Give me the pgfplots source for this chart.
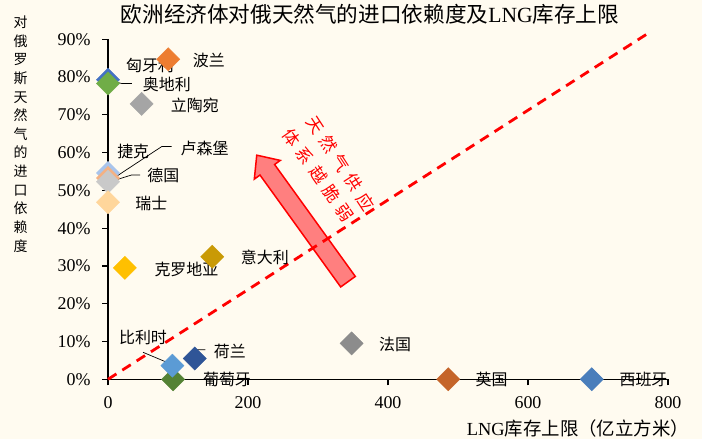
\documentclass[border=0pt]{standalone}
\usepackage{pgfplots}
\pgfplotsset{compat=1.18}
\usepackage{fontspec}
\setmainfont{Liberation Serif}
\newfontfamily\cjk{Noto Sans CJK SC}
\definecolor{bg}{HTML}{FFFBF0}
\definecolor{arrowfill}{HTML}{FF7F7F}
\definecolor{cPL}{HTML}{ED7D31}
\definecolor{cHU}{HTML}{4472C4}
\definecolor{cAT}{HTML}{70AD47}
\definecolor{cLT}{HTML}{A5A5A5}
\definecolor{cCZ}{HTML}{A9C4EB}
\definecolor{cLU}{HTML}{F4B183}
\definecolor{cDE}{HTML}{C9C9C9}
\definecolor{cCH}{HTML}{FFD69B}
\definecolor{cHR}{HTML}{FFC000}
\definecolor{cIT}{HTML}{C99A06}
\definecolor{cBE}{HTML}{5B9BD5}
\definecolor{cNL}{HTML}{2F5597}
\definecolor{cPT}{HTML}{548235}
\definecolor{cFR}{HTML}{8C8C8C}
\definecolor{cUK}{HTML}{C5652A}
\definecolor{cES}{HTML}{4A7EBB}
\newcommand\lab{\cjk\fontsize{16}{16}\selectfont}
\newcommand\rs{\hspace{6bp}}
\pgfplotsset{dia/.style={mark options={rotate=45, fill=#1, draw=#1}, color=#1}}
\begin{document}
\begin{tikzpicture}
\begin{scope}[x=1bp,y=1bp]
\fill[bg] (0,0) rectangle (702,439);
% arrow
\begin{scope}[shift={(348,157.3)},rotate=125.8]
\filldraw[draw=red, fill=arrowfill, line width=1.5bp] (0,-9) -- (138,-9) -- (138,-16) -- (156,0) -- (138,16) -- (138,9) -- (0,9) -- cycle;
\end{scope}
\node[rotate=-57, text=red, font=\cjk\fontsize{17}{17}\selectfont, inner sep=0] at (340.8,275.7) {天\rs 然\rs 气\rs 供\rs 应};
\node[rotate=-55, text=red, font=\cjk\fontsize{17}{17}\selectfont, inner sep=0] at (318.3,264) {体\rs 系\rs 越\rs 脆\rs 弱};
% title
\node[font=\fontsize{21.7}{21.7}\selectfont, inner sep=0] at (370,425) {{\cjk 欧洲经济体对俄天然气的进口依赖度及}LNG{\cjk 库存上限}};
% y label
\node[font=\cjk\fontsize{14}{18.7}\selectfont, align=center, inner sep=0] at (20.5,305) {对\\俄\\罗\\斯\\天\\然\\气\\的\\进\\口\\依\\赖\\度};
% x label
\node[font=\fontsize{18.5}{18.5}\selectfont, inner sep=0] at (578,11) {LNG{\cjk 库存上限（亿立方米）}};
\end{scope}
\begin{axis}[
  at={(108bp,59.7bp)}, anchor=south west,
  scale only axis, width=560bp, height=340bp,
  xmin=0, xmax=800, ymin=0, ymax=0.9,
  axis lines*=left,
  axis line style={black, line width=1.2bp},
  tick style={black, line width=1.1bp},
  tick align=outside,
  major tick length=6bp,
  xtick={0,200,400,600,800},
  xticklabels={0,200,400,600,800},
  ytick={0,0.1,0.2,0.3,0.4,0.5,0.6,0.7,0.8,0.9},
  yticklabels={0\%,10\%,20\%,30\%,40\%,50\%,60\%,70\%,80\%,90\%},
  ticklabel style={font=\fontsize{18}{18}\selectfont},
  yticklabel style={xshift=-8bp},
  xticklabel style={yshift=-8bp},
  clip=false,
  every axis plot/.append style={only marks, mark=square*, mark size=8.2bp},
]
\addplot[red, no marks, sharp plot, line width=2.8bp, dash pattern=on 10bp off 7bp] coordinates {(0,0) (775,0.92)};
\addplot[dia=cPL] coordinates {(86,0.847)};
\addplot[dia=cHU] coordinates {(0,0.793)};
\addplot[dia=cAT] coordinates {(0,0.783)};
\addplot[dia=cLT] coordinates {(48,0.729)};
\addplot[dia=cCZ] coordinates {(0,0.546)};
\addplot[dia=cLU] coordinates {(0,0.533)};
\addplot[dia=cDE] coordinates {(0,0.523)};
\addplot[dia=cCH] coordinates {(0,0.4685)};
\addplot[dia=cHR] coordinates {(24,0.295)};
\addplot[dia=cIT] coordinates {(149,0.3245)};
\addplot[dia=cPT] coordinates {(93,0)};
\addplot[dia=cBE] coordinates {(92,0.036)};
\addplot[dia=cNL] coordinates {(124,0.055)};
\addplot[dia=cFR] coordinates {(348,0.095)};
\addplot[dia=cUK] coordinates {(486,0)};
\addplot[dia=cES] coordinates {(691,0)};
% leader lines
\draw[black, line width=0.7bp] (axis cs:0,0.792) -- (axis cs:19.6,0.783) -- (axis cs:34,0.783);
\draw[black, line width=0.7bp] (axis cs:0.4,0.523) -- (axis cs:76.7,0.616) -- (axis cs:91,0.616);
\draw[black, line width=0.7bp] (axis cs:3,0.523) -- (axis cs:34,0.541) -- (axis cs:46,0.541);
\draw[black, line width=0.7bp] (axis cs:50,0.0715) -- (axis cs:93,0.038);
\draw[black, line width=0.7bp] (axis cs:124,0.056) -- (axis cs:127,0.078) -- (axis cs:139,0.078);
% labels
\node[font=\lab] at (axis cs:60,0.832) {匈牙利};
\node[font=\lab] at (axis cs:144,0.845) {波兰};
\node[font=\lab] at (axis cs:84,0.781) {奥地利};
\node[font=\lab] at (axis cs:124,0.726) {立陶宛};
\node[font=\lab] at (axis cs:36,0.602) {捷克};
\node[font=\lab] at (axis cs:138,0.610) {卢森堡};
\node[font=\lab] at (axis cs:79,0.539) {德国};
\node[font=\lab] at (axis cs:62,0.466) {瑞士};
\node[font=\lab] at (axis cs:112,0.292) {克罗地亚};
\node[font=\lab] at (axis cs:224,0.323) {意大利};
\node[font=\lab] at (axis cs:50,0.111) {比利时};
\node[font=\lab] at (axis cs:174,0.073) {荷兰};
\node[font=\lab] at (axis cs:170,0) {葡萄牙};
\node[font=\lab] at (axis cs:410,0.093) {法国};
\node[font=\lab] at (axis cs:548,0) {英国};
\node[font=\lab] at (axis cs:765,0) {西班牙};
\end{axis}
\end{tikzpicture}
\end{document}
